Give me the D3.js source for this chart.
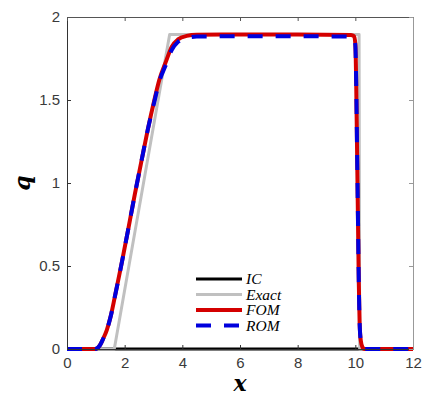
<!DOCTYPE html>
<html>
<head>
<meta charset="utf-8">
<script src="https://cdn.jsdelivr.net/npm/d3@7"></script>
<style>
  body { margin: 0; background: #fff; }
  svg text { font-family: "Liberation Sans", Arial, sans-serif; }
</style>
</head>
<body>
<script>
"use strict";

// Data

const icX = [0, 12];
const icQ = [0, 0];

const exactX = [0, 1.64, 3.56, 10.13, 10.15, 12];
const exactQ = [0, 0, 1.895, 1.895, 0, 0];

const fomX = [0, 0.95, 1.05, 1.15, 1.25, 1.38, 1.52, 1.66, 1.9, 2.1, 2.35, 2.59, 2.8, 3.03, 3.2, 3.45, 3.63, 3.85, 4.15, 4.5, 6, 8, 9.85, 9.95, 10.0, 10.03, 10.06, 10.09, 10.12, 10.15, 10.19, 10.25, 10.32, 12];
const fomQ = [0, 0, 0.005, 0.025, 0.06, 0.114, 0.2, 0.315, 0.52, 0.7, 0.93, 1.139, 1.32, 1.5, 1.62, 1.74, 1.82, 1.865, 1.886, 1.893, 1.894, 1.894, 1.892, 1.885, 1.84, 1.6, 1.2, 0.8, 0.4, 0.15, 0.05, 0.01, 0, 0];

const romX = fomX;
const romQ = [0, 0, 0.005, 0.025, 0.06, 0.114, 0.2, 0.315, 0.52, 0.7, 0.93, 1.139, 1.32, 1.49, 1.61, 1.72, 1.8, 1.85, 1.874, 1.882, 1.884, 1.884, 1.882, 1.875, 1.83, 1.6, 1.2, 0.8, 0.4, 0.15, 0.05, 0.01, 0, 0];

const xTicks = [0, 2, 4, 6, 8, 10, 12];
const yTicks = [0, 0.5, 1, 1.5, 2];

const series = [
    { name: "IC", x: icX, q: icQ, color: "#000000", width: 3, dash: null },
    { name: "Exact", x: exactX, q: exactQ, color: "#c0c0c0", width: 3, dash: null },
    { name: "FOM", x: fomX, q: fomQ, color: "#d40000", width: 4, dash: null },
    { name: "ROM", x: romX, q: romQ, color: "#0000dd", width: 4, dash: "15,13" }
];

// Size parameters

const width = 422;
const height = 398;
const m = { left: 67, right: 413, top: 17, bottom: 349 };

const svg = d3.select("body")
    .append("svg")
    .attr("width", width)
    .attr("height", height);

const x = d3.scaleLinear().domain([0, 12]).range([m.left, m.right]);
const y = d3.scaleLinear().domain([0, 2]).range([m.bottom, m.top]);

/*********
 * Lines *
 *********/

const line = d3.line()
    .x(d => x(d[0]))
    .y(d => y(d[1]))
    .curve(d3.curveMonotoneX);

const lineStraight = d3.line()
    .x(d => x(d[0]))
    .y(d => y(d[1]));

const plot = svg.append("g");

series.forEach(s => {
    const pts = s.x.map((v, i) => [v, s.q[i]]);
    plot.append("path")
        .attr("d", (s.name === "Exact" || s.name === "IC") ? lineStraight(pts) : line(pts))
        .attr("fill", "none")
        .attr("stroke", s.color)
        .attr("stroke-width", s.width)
        .attr("stroke-dasharray", s.dash)
        .attr("stroke-linejoin", "round");
});

/********
 * Axes *
 ********/

const tickColor = "#333";

svg.append("g")
    .attr("transform", `translate(0,${m.bottom})`)
    .call(d3.axisBottom(x).tickValues(xTicks).tickSize(-4).tickPadding(8).tickFormat(d3.format("d")))
    .call(g => g.select(".domain").attr("stroke", tickColor))
    .call(g => g.selectAll(".tick line").attr("stroke", tickColor))
    .call(g => g.selectAll("text").attr("font-size", 15).attr("fill", "#3a3a3a"));

svg.append("g")
    .attr("transform", `translate(${m.left},0)`)
    .call(d3.axisLeft(y).tickValues(yTicks).tickSize(-4).tickPadding(7).tickFormat(d => d))
    .call(g => g.select(".domain").attr("stroke", tickColor))
    .call(g => g.selectAll(".tick line").attr("stroke", tickColor))
    .call(g => g.selectAll("text").attr("font-size", 15).attr("fill", "#3a3a3a"));

// box top and right, ticks inward
svg.append("g")
    .attr("transform", `translate(0,${m.top})`)
    .call(d3.axisTop(x).tickValues(xTicks).tickSize(-4).tickFormat(""))
    .call(g => g.select(".domain").attr("stroke", "#555"))
    .call(g => g.selectAll(".tick line").attr("stroke", "#555"));

svg.append("g")
    .attr("transform", `translate(${m.right},0)`)
    .call(d3.axisRight(y).tickValues(yTicks).tickSize(-4).tickFormat(""))
    .call(g => g.select(".domain").attr("stroke", "#999"))
    .call(g => g.selectAll(".tick line").attr("stroke", "#999"));

// axis labels
svg.append("text")
    .attr("x", (m.left + m.right) / 2)
    .attr("y", 391)
    .attr("text-anchor", "middle")
    .style("font-family", "'DejaVu Serif', serif")
    .style("font-style", "italic")
    .style("font-weight", "bold")
    .style("font-size", "22px")
    .text("x");

svg.append("text")
    .attr("transform", `translate(30,${(m.top + m.bottom) / 2}) rotate(-90)`)
    .attr("text-anchor", "middle")
    .style("font-family", "'DejaVu Serif', serif")
    .style("font-style", "italic")
    .style("font-weight", "bold")
    .style("font-size", "22px")
    .text("q");

/**********
 * Legend *
 **********/

const legend = svg.append("g").attr("transform", "translate(196,279)");

series.forEach((s, i) => {
    const row = legend.append("g").attr("transform", `translate(0,${i * 15.5})`);
    row.append("line")
        .attr("x1", 0).attr("x2", 46)
        .attr("y1", 0).attr("y2", 0)
        .attr("stroke", s.color)
        .attr("stroke-width", s.width)
        .attr("stroke-dasharray", s.dash);
    row.append("text")
        .attr("x", 50)
        .attr("y", 5)
        .style("font-family", "'Liberation Serif', serif")
        .style("font-style", "italic")
        .style("font-size", "15.5px")
        .text(s.name);
});
</script>
</body>
</html>
